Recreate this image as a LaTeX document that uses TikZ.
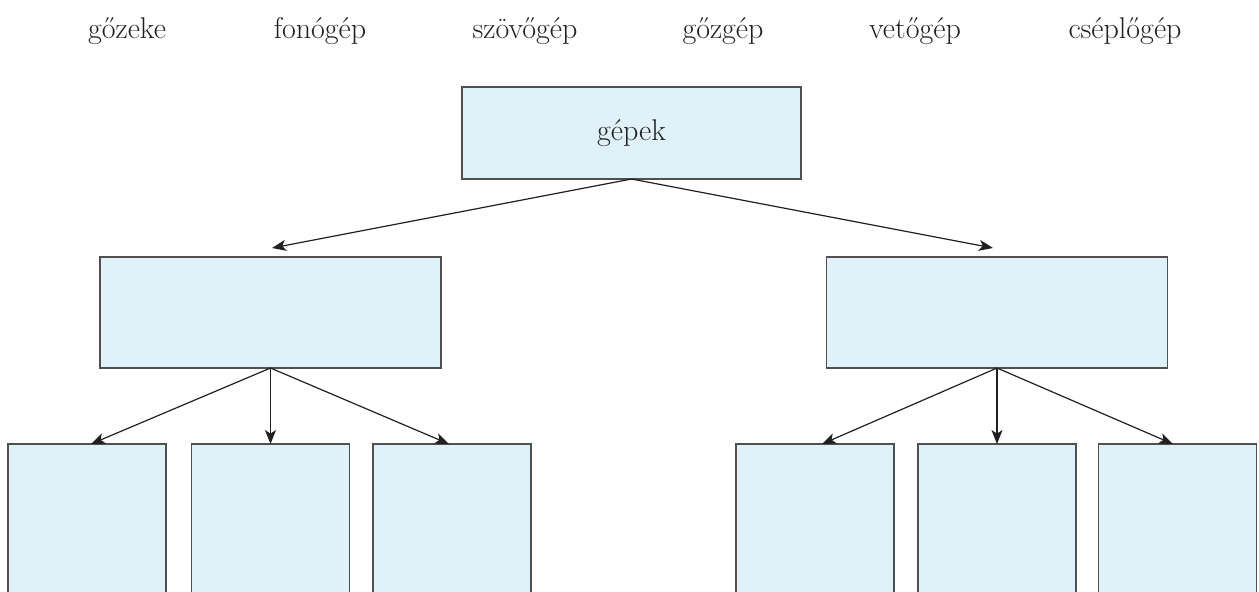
\documentclass[tikz,border=0pt]{standalone}
\usetikzlibrary{arrows.meta}
\definecolor{boxfill}{HTML}{DFF2FA}
\definecolor{boxline}{HTML}{505050}
\definecolor{ink}{HTML}{231F20}
\begin{document}
\begin{tikzpicture}[x=0.5pt,y=-0.5pt,
  box/.style={draw=boxline,fill=boxfill,line width=0.75pt,inner sep=0pt,outer sep=0pt},
  topbox/.style={box,minimum width=169.5pt,minimum height=46pt},
  midbox/.style={box,minimum width=170.5pt,minimum height=55.5pt},
  leafbox/.style={box,minimum width=79pt,minimum height=128pt},
  word/.style={anchor=base,text=ink,font=\fontsize{15}{18}\selectfont,inner sep=0pt},
  link/.style={draw=ink,line width=0.6pt,-{Stealth[length=7pt,width=5.5pt,inset=1.8pt]}}]
\useasboundingbox (0,0) rectangle (1259,591);
\clip (0,0) rectangle (1259,591);
% word list
\node[word] (w1) at (127,38) {gőzeke};
\node[word] (w2) at (320,38) {fonógép};
\node[word] (w3) at (525,38) {szövőgép};
\node[word] (w4) at (723,38) {gőzgép};
\node[word] (w5) at (915,38) {vetőgép};
\node[word] (w6) at (1125,38) {cséplőgép};
% boxes
\node[topbox,text=ink,font=\fontsize{15}{18}\selectfont] (top) at (631.5,133) {gépek};
\node[midbox] (midL) at (270.5,312.5) {};
\node[midbox] (midR) at (997,312.5) {};
\node[leafbox] (c1) at (87,572) {};
\node[leafbox] (c2) at (270.5,572) {};
\node[leafbox] (c3) at (452,572) {};
\node[leafbox] (c4) at (815,572) {};
\node[leafbox] (c5) at (997,572) {};
\node[leafbox] (c6) at (1177.5,572) {};
% connectors
\draw[link] (top.south) -- ([xshift=0.75pt,yshift=4.5pt]midL.north);
\draw[link] (top.south) -- ([xshift=-2pt,yshift=4.5pt]midR.north);
\draw[link] (midL.south) -- ([xshift=2pt]c1.north);
\draw[link] (midL.south) -- (c2.north);
\draw[link] (midL.south) -- ([xshift=-1.5pt]c3.north);
\draw[link] (midR.south) -- ([xshift=3.5pt]c4.north);
\draw[link] (midR.south) -- (c5.north);
\draw[link] (midR.south) -- ([xshift=-2.25pt]c6.north);
\end{tikzpicture}
\end{document}
